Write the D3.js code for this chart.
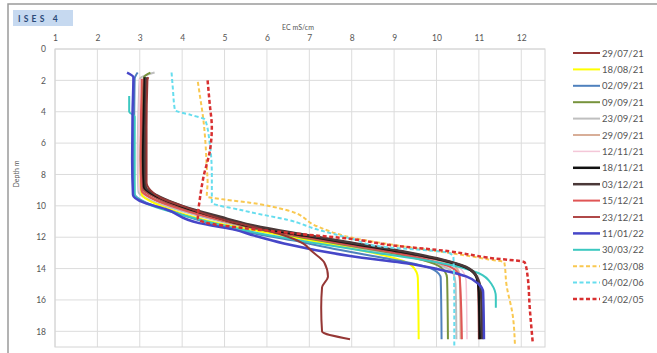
<!DOCTYPE html>
<html>
<head>
<meta charset="utf-8">
<script src="https://cdn.jsdelivr.net/npm/d3@7"></script>
<style>
  html, body { margin: 0; padding: 0; background: #fff; }
  svg { display: block; font-family: Lato, "Open Sans", sans-serif; }
</style>
</head>
<body>
<svg id="chart" width="657" height="353"></svg>
<script>
// EC profiles, each point is [depth m, EC mS/cm]
const p290721 = [[1.8,3.2],[2,3.18],[5,3.16],[8.5,3.16],[9,3.25],[9.5,3.5],[10,4.0],[10.9,5.0],[11.3,5.6],[11.8,6.3],[12.4,6.85],[12.9,7.06],[13.6,7.35],[14.5,7.44],[15.2,7.3],[16.5,7.28],[18,7.3],[18.5,7.96]];
const p180821 = [[1.9,3.1],[3,3.08],[6,3.05],[8.5,3.02],[9.3,3.05],[9.9,3.4],[10.5,4.0],[11.2,5.0],[11.8,6.2],[12.4,7.4],[13.0,8.5],[13.5,9.2],[13.9,9.45],[14.6,9.56],[18.5,9.58]];
const p020921 = [[1.5,2.95],[1.9,2.88],[4,2.87],[7,2.86],[9.2,2.87],[9.8,3.15],[10.3,3.7],[11.0,4.5],[11.6,5.4],[12.2,6.6],[12.8,7.7],[13.3,8.7],[13.7,9.5],[14.1,9.95],[14.6,10.1],[18.5,10.12]];
const p090921 = [[1.5,3.25],[1.8,3.1],[4,3.05],[7,3.02],[9.0,3.05],[9.6,3.35],[10.2,4.0],[10.9,4.9],[11.5,5.8],[12.1,7.0],[12.7,8.3],[13.2,9.3],[13.7,9.95],[14.2,10.2],[14.6,10.25],[18.5,10.27]];
const p230921 = [[1.5,3.35],[1.9,3.0],[4,2.97],[7,2.95],[9.1,2.97],[9.7,3.3],[10.3,3.95],[11.0,4.9],[11.6,5.9],[12.2,7.1],[12.8,8.4],[13.3,9.4],[13.8,10.1],[14.3,10.4],[15,10.45],[18.5,10.47]];
const p290921 = [[1.9,3.12],[4,3.1],[7,3.08],[8.9,3.1],[9.5,3.4],[10.1,4.0],[10.8,5.0],[11.4,5.9],[12.0,7.2],[12.6,8.5],[13.1,9.5],[13.5,10.1],[13.9,10.45],[14.5,10.55],[18.5,10.57]];
const p121121 = [[1.9,3.0],[4,2.98],[7,2.96],[9.0,2.98],[9.6,3.3],[10.2,3.95],[10.9,4.9],[11.5,5.9],[12.1,7.1],[12.7,8.4],[13.2,9.5],[13.6,10.2],[14.1,10.6],[14.8,10.7],[18.5,10.72]];
const p181121 = [[1.8,3.12],[4,3.1],[7,3.08],[8.8,3.1],[9.4,3.4],[10.0,3.95],[10.8,4.9],[11.3,5.6],[11.9,6.9],[12.4,8.0],[13.0,9.3],[13.5,10.2],[14.0,10.75],[14.6,10.95],[15.5,11.0],[18.5,11.02]];
const p031221 = [[1.8,3.15],[4,3.14],[7,3.12],[8.8,3.14],[9.4,3.45],[10.0,4.0],[10.7,4.9],[11.2,5.6],[11.8,6.8],[12.3,7.9],[12.9,9.2],[13.4,10.1],[13.9,10.7],[14.5,10.95],[15.5,11.05],[18.5,11.08]];
const p151221 = [[1.9,3.05],[4,3.03],[7,3.02],[9.0,3.04],[9.6,3.35],[10.2,3.95],[10.9,4.9],[11.5,5.9],[12.1,7.1],[12.7,8.4],[13.2,9.4],[13.6,10.0],[14.0,10.4],[14.6,10.55],[18.5,10.6]];
const p231221 = [[1.9,3.1],[4,3.08],[7,3.06],[8.9,3.08],[9.5,3.4],[10.1,3.98],[10.8,4.95],[11.4,5.8],[12.0,7.0],[12.6,8.3],[13.1,9.4],[13.6,10.3],[14.1,10.8],[14.8,10.98],[18.5,11.0]];
const p110122 = [[1.5,2.7],[1.8,2.85],[4,2.83],[7,2.82],[9.3,2.84],[9.8,3.1],[10.2,3.6],[11.1,4.4],[11.5,5.2],[11.9,5.7],[12.4,6.4],[13.2,7.96],[13.75,9.5],[14.2,10.3],[14.5,10.7],[15.0,11.0],[15.5,11.1],[18.5,11.12]];
const p300322 = [[3.0,2.75],[4.0,2.75],[4.3,2.88],[7,2.88],[9.3,2.88],[9.9,3.2],[10.5,3.9],[11.2,4.9],[11.8,5.9],[12.4,7.2],[13.0,8.6],[13.4,9.6],[13.8,10.4],[14.3,11.0],[15.0,11.3],[15.8,11.4],[16.5,11.4]];
const p120308 = [[2.1,4.37],[3,4.42],[4.5,4.5],[6,4.55],[7.5,4.58],[8.5,4.6],[9.4,4.58],[9.6,5.0],[9.8,5.6],[10.3,6.5],[11.3,7.18],[12.0,7.96],[12.7,9.5],[13.0,10.3],[13.4,11.2],[13.6,11.6],[15,11.65],[17,11.8],[18.8,11.85]];
const p040206 = [[1.5,3.75],[2.5,3.78],[3.9,3.83],[4.2,4.2],[4.5,4.54],[6,4.65],[8,4.7],[9.8,4.7],[10.25,5.36],[10.4,5.6],[10.9,6.5],[11.5,7.18],[12.1,8.0],[12.6,8.7],[13.0,10.3],[13.3,10.4],[16,10.42],[19,10.42]];
const p240205 = [[2.0,4.6],[3.5,4.65],[5,4.7],[6.4,4.66],[8.2,4.5],[9.5,4.42],[10.8,4.37],[11.1,4.6],[11.4,5.4],[11.8,6.8],[12.1,7.96],[12.5,8.9],[12.9,10.3],[13.3,11.2],[13.6,12.08],[14.5,12.15],[16.5,12.2],[18.7,12.27]];

const seriesNames = ["29/07/21","18/08/21","02/09/21","09/09/21","23/09/21","29/09/21","12/11/21","18/11/21","03/12/21","15/12/21","23/12/21","11/01/22","30/03/22","12/03/08","04/02/06","24/02/05"];
const seriesData = [p290721,p180821,p020921,p090921,p230921,p290921,p121121,p181121,p031221,p151221,p231221,p110122,p300322,p120308,p040206,p240205];
const seriesColors = ["#953735","#FFFF00","#4F81BD","#77933C","#BFBFBF","#D8AE98","#F4C7D8","#111111","#4A3838","#E05555","#B04848","#4646C8","#3CC8C0","#F9C850","#66DDEE","#D83030"];
const seriesWidths = [2,2,2,2,2,2,1.5,2.5,2.5,2,2,2.5,2,2,2,2.5];
const seriesDashes = [null,null,null,null,null,null,null,null,null,null,null,null,null,"4,2.5","4,2.5","4,2.5"];
// draw order: thin light lines first, heavy dark ones last
const drawOrder = [4,6,5,1,3,2,9,10,12,7,8,11,0,13,14,15];

const xTicks = [1,2,3,4,5,6,7,8,9,10,11,12];
const yTicks = [0,2,4,6,8,10,12,14,16,18];

const svg = d3.select("#chart");

// outer chart frame
svg.append("rect").attr("x", 8).attr("y", 4).attr("width", 700).attr("height", 400)
  .attr("fill", "none").attr("stroke", "#9a9a9a").attr("stroke-width", 1.5);

// title tag
svg.append("rect").attr("x", 13).attr("y", 10).attr("width", 60).attr("height", 16).attr("fill", "#C6D9F0");
svg.append("text").attr("x", 18).attr("y", 21.5).attr("font-size", 8.5).attr("font-weight", "bold")
  .attr("letter-spacing", 3.2).attr("fill", "#2a4a78").text("ISES 4");

const x = d3.scaleLinear().domain([1, 12.56]).range([55, 545]);
const y = d3.scaleLinear().domain([0, 19]).range([49, 347]);

// gridlines
const grid = svg.append("g").attr("stroke", "#dcdcdc").attr("stroke-width", 1);
grid.selectAll("line.v").data(xTicks).join("line")
  .attr("x1", d => x(d)).attr("x2", d => x(d)).attr("y1", y(0)).attr("y2", y(19));
grid.selectAll("line.h").data(yTicks).join("line")
  .attr("x1", x(1)).attr("x2", x(12.56)).attr("y1", d => y(d)).attr("y2", d => y(d));
svg.append("rect").attr("x", x(1)).attr("y", y(0)).attr("width", x(12.56) - x(1)).attr("height", y(19) - y(0))
  .attr("fill", "none").attr("stroke", "#d4d4d4");

// axes
const xAxis = svg.append("g").attr("transform", `translate(0,${y(0)})`)
  .call(d3.axisTop(x).tickValues(xTicks).tickSize(0).tickPadding(8).tickFormat(d3.format("d")));
const yAxis = svg.append("g").attr("transform", `translate(${x(1)},0)`)
  .call(d3.axisLeft(y).tickValues(yTicks).tickSize(0).tickPadding(9).tickFormat(d3.format("d")));
[xAxis, yAxis].forEach(a => {
  a.select(".domain").remove();
  a.selectAll("text").attr("font-size", 8.5).attr("fill", "#555").attr("font-family", "Lato, sans-serif");
});

svg.append("text").attr("x", 298).attr("y", 30).attr("text-anchor", "middle")
  .attr("font-size", 7).attr("fill", "#555").text("EC mS/cm");
svg.append("text").attr("transform", "translate(19,174) rotate(-90)").attr("text-anchor", "middle")
  .attr("font-size", 7).attr("fill", "#555").text("Depth m");

// profiles
const line = d3.line().x(d => x(d[1])).y(d => y(d[0])).curve(d3.curveMonotoneY);
const plot = svg.append("g");
drawOrder.forEach(i => {
  plot.append("path").datum(seriesData[i])
    .attr("d", line)
    .attr("fill", "none")
    .attr("stroke", seriesColors[i])
    .attr("stroke-width", seriesWidths[i])
    .attr("stroke-dasharray", seriesDashes[i])
    .attr("stroke-linejoin", "round");
});

// legend
const legend = svg.append("g").attr("transform", "translate(573,53)");
seriesNames.forEach((name, i) => {
  const g = legend.append("g").attr("transform", `translate(0,${i * 16.4})`);
  g.append("line").attr("x1", 0).attr("x2", 27).attr("y1", 0).attr("y2", 0)
    .attr("stroke", seriesColors[i]).attr("stroke-width", seriesWidths[i])
    .attr("stroke-dasharray", seriesDashes[i]);
  g.append("text").attr("x", 29).attr("y", 3.5).attr("font-size", 9.5).attr("fill", "#555").text(name);
});
</script>
</body>
</html>
